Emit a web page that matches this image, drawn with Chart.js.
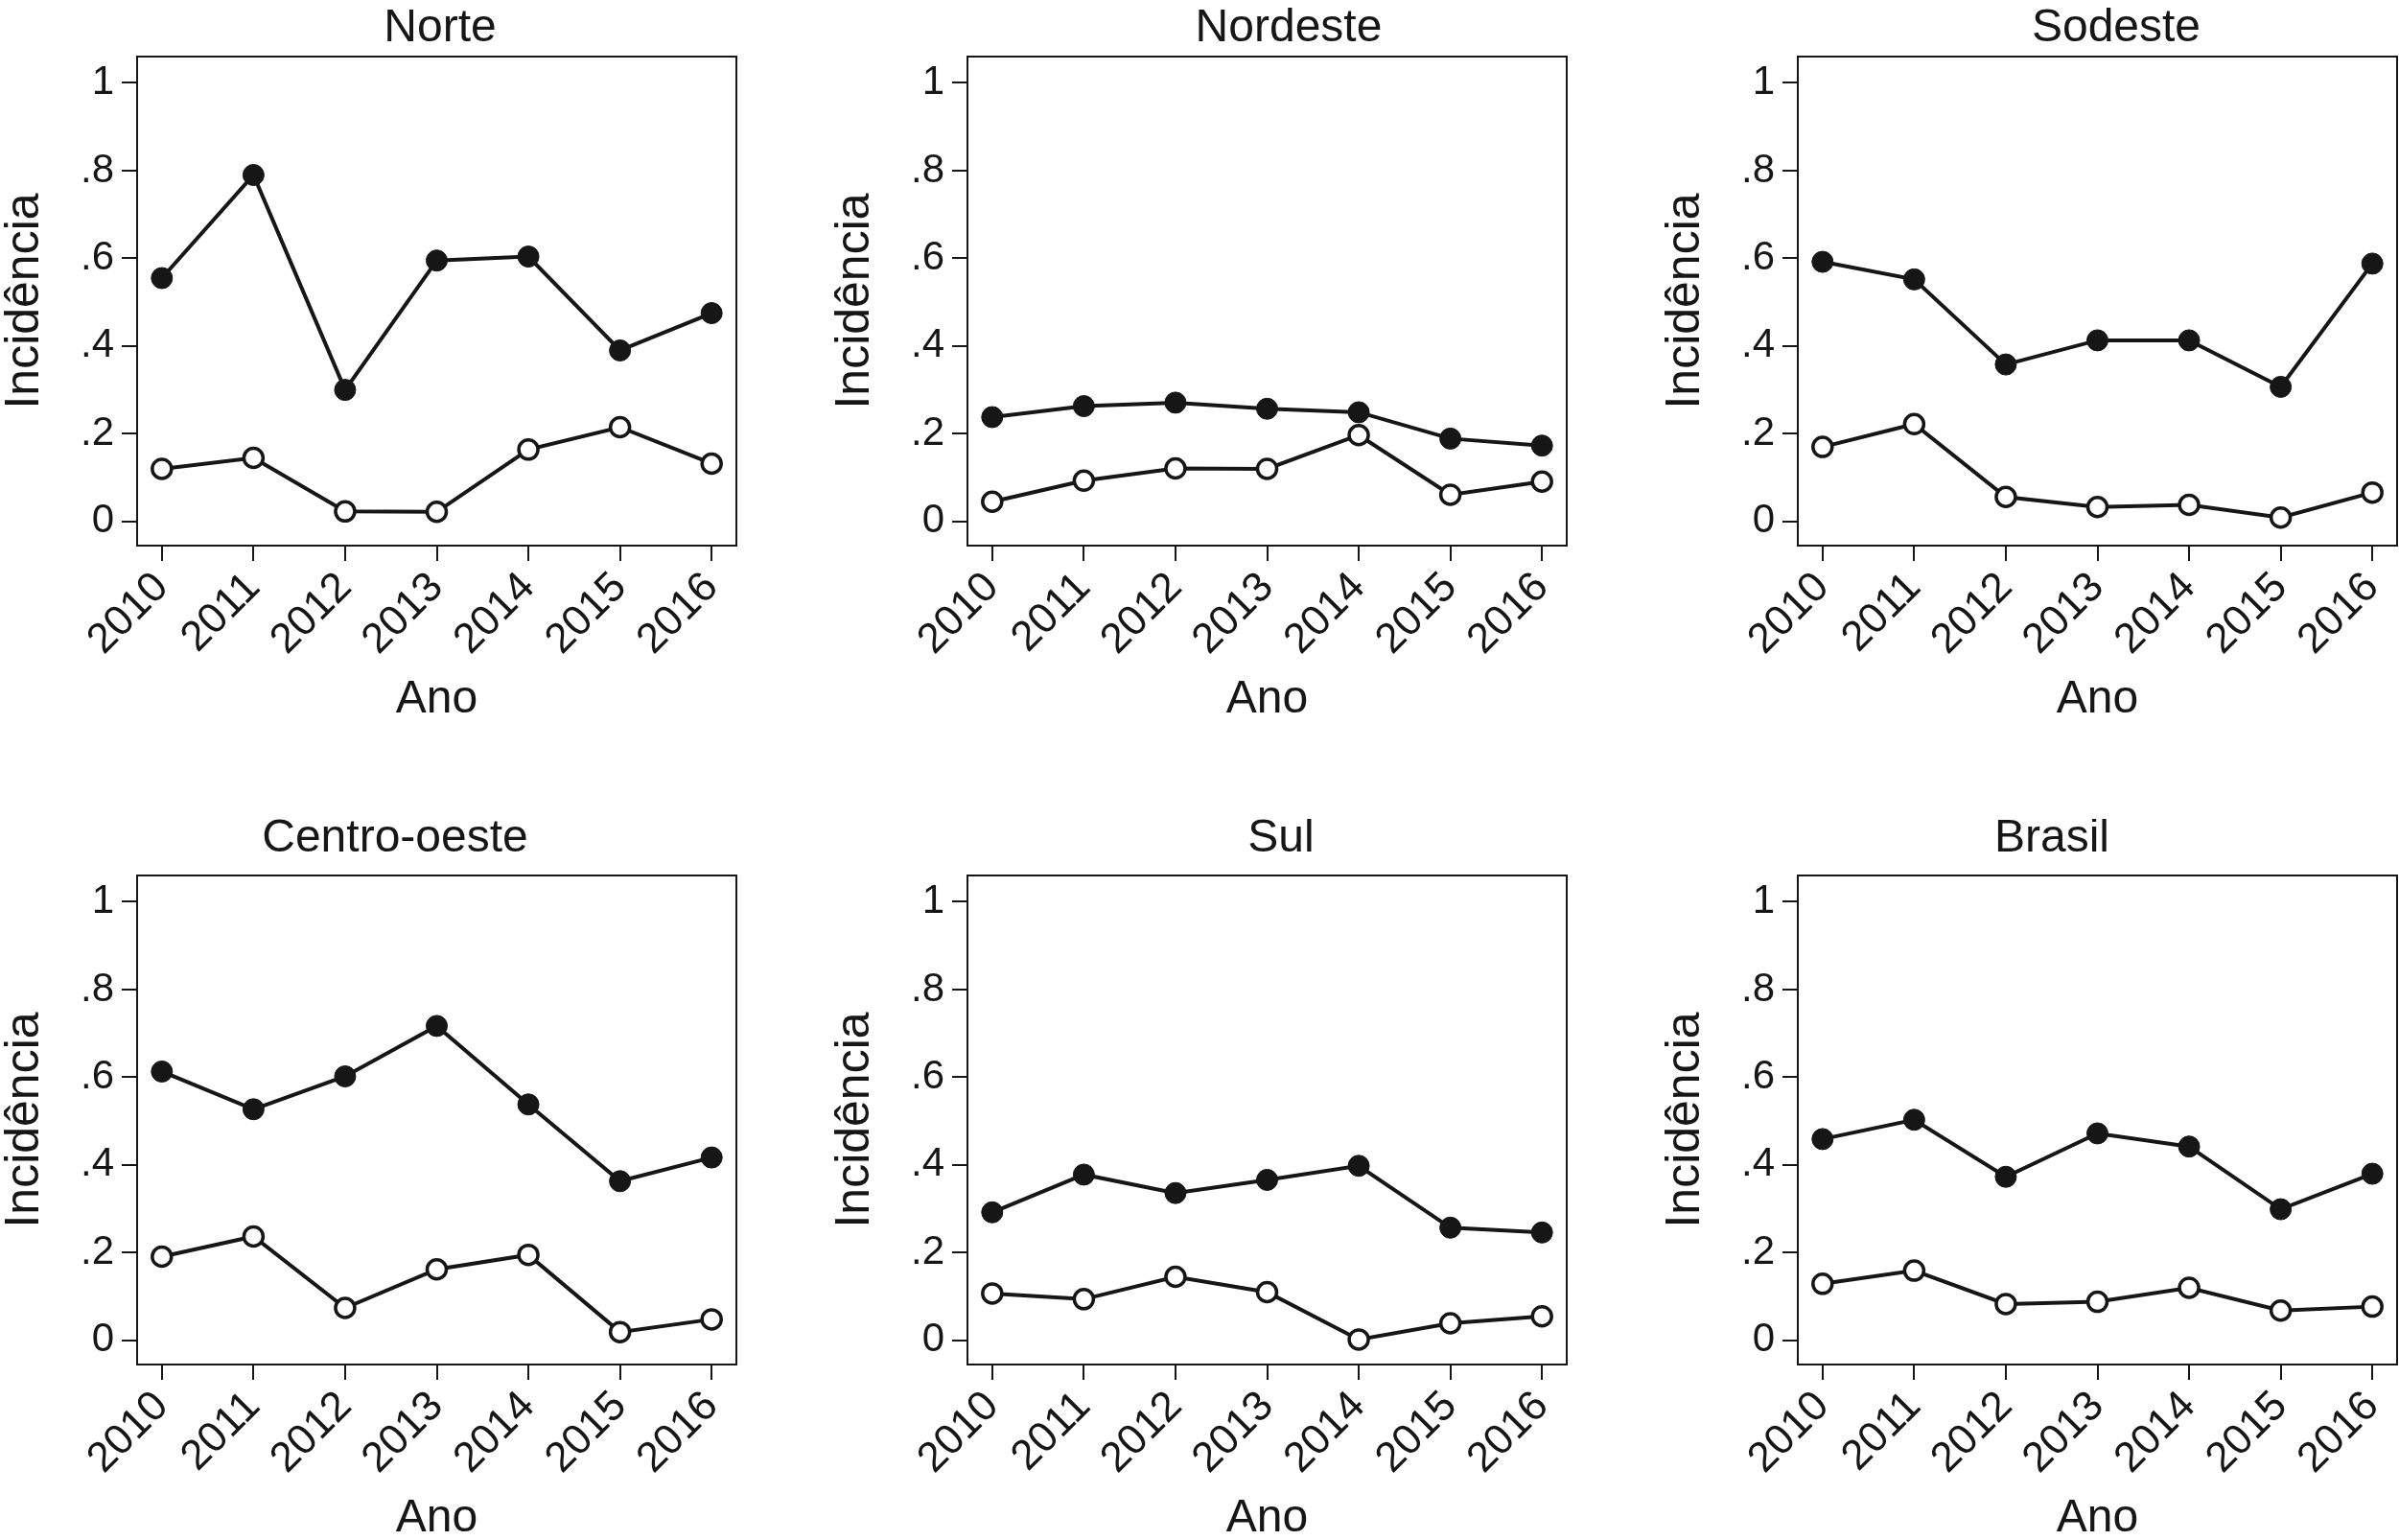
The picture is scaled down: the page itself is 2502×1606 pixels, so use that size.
<!DOCTYPE html>
<html>
<head>
<meta charset="utf-8">
<script src="https://cdn.jsdelivr.net/npm/chart.js@4.4.1/dist/chart.umd.min.js"></script>
<style>
html, body { margin: 0; padding: 0; background: #fff; width: 2502px; height: 1606px; overflow: hidden; }
canvas { position: absolute; }
</style>
</head>
<body>
<canvas id="c0" width="784" height="754" style="left:0px;top:0px"></canvas>
<canvas id="c1" width="784" height="754" style="left:866px;top:0px"></canvas>
<canvas id="c2" width="784" height="754" style="left:1732px;top:0px"></canvas>
<canvas id="c3" width="784" height="754" style="left:0px;top:854px"></canvas>
<canvas id="c4" width="784" height="754" style="left:866px;top:854px"></canvas>
<canvas id="c5" width="784" height="754" style="left:1732px;top:854px"></canvas>
<script>
// dados
const years = [2010, 2011, 2012, 2013, 2014, 2015, 2016];
const yTicks = [0, 0.2, 0.4, 0.6, 0.8, 1];
const yTickLabels = ['0', '.2', '.4', '.6', '.8', '1'];
const regions = ['Norte', 'Nordeste', 'Sodeste', 'Centro-oeste', 'Sul', 'Brasil'];

const norteCheio = [0.555, 0.79, 0.30, 0.595, 0.604, 0.39, 0.475];
const norteVazio = [0.12, 0.145, 0.023, 0.022, 0.164, 0.215, 0.132];
const nordesteCheio = [0.238, 0.263, 0.271, 0.257, 0.249, 0.189, 0.173];
const nordesteVazio = [0.045, 0.093, 0.121, 0.12, 0.197, 0.061, 0.091];
const sodesteCheio = [0.592, 0.552, 0.358, 0.413, 0.413, 0.307, 0.588];
const sodesteVazio = [0.17, 0.222, 0.056, 0.033, 0.038, 0.009, 0.066];
const centroCheio = [0.613, 0.527, 0.602, 0.717, 0.538, 0.363, 0.417];
const centroVazio = [0.191, 0.237, 0.074, 0.162, 0.195, 0.019, 0.048];
const sulCheio = [0.292, 0.378, 0.336, 0.366, 0.398, 0.257, 0.246];
const sulVazio = [0.107, 0.094, 0.145, 0.11, 0.002, 0.039, 0.055];
const brasilCheio = [0.459, 0.503, 0.373, 0.472, 0.442, 0.299, 0.38];
const brasilVazio = [0.129, 0.159, 0.083, 0.088, 0.12, 0.068, 0.077];

const cheios = [norteCheio, nordesteCheio, sodesteCheio, centroCheio, sulCheio, brasilCheio];
const vazios = [norteVazio, nordesteVazio, sodesteVazio, centroVazio, sulVazio, brasilVazio];

// onde fica o titulo de cada painel (dentro do canvas)
const titleX = [459, 478, 475, 412, 470, 408];
const titleBase = [43, 43, 43, 34, 34, 34];

const ink = '#161616';
Chart.defaults.font.family = "'Liberation Sans', Arial, Helvetica, sans-serif";
Chart.defaults.color = ink;

// moldura em volta da area do grafico + titulo do painel
const boxPlugin = {
    id: 'box',
    afterDraw(chart, args, opts) {
        const a = chart.chartArea;
        const ctx = chart.ctx;
        ctx.save();
        ctx.strokeStyle = ink;
        ctx.lineWidth = 2;
        ctx.strokeRect(a.left, a.top, a.right - a.left, a.bottom - a.top);
        ctx.fillStyle = ink;
        ctx.font = "48px 'Liberation Sans', Arial, sans-serif";
        ctx.textAlign = 'center';
        ctx.textBaseline = 'alphabetic';
        ctx.fillText(opts.text, opts.x, opts.y);
        ctx.restore();
    }
};

function toPoints(arr) {
    return years.map((x, i) => ({ x: x, y: arr[i] }));
}

regions.forEach(function (name, k) {
    const ctx = document.getElementById('c' + k).getContext('2d');
    new Chart(ctx, {
        type: 'line',
        data: {
            datasets: [
                {
                    data: toPoints(cheios[k]),
                    borderColor: ink,
                    borderWidth: 4,
                    pointRadius: 11,
                    pointBackgroundColor: ink,
                    pointBorderColor: ink,
                    pointBorderWidth: 1,
                    tension: 0
                },
                {
                    data: toPoints(vazios[k]),
                    borderColor: ink,
                    borderWidth: 4,
                    pointRadius: 10,
                    pointBackgroundColor: '#fff',
                    pointBorderColor: ink,
                    pointBorderWidth: 3.5,
                    tension: 0
                }
            ]
        },
        options: {
            responsive: false,
            animation: false,
            devicePixelRatio: 1,
            layout: { padding: { left: 0, right: 16, top: 59, bottom: 0 } },
            plugins: {
                legend: { display: false },
                tooltip: { enabled: false },
                title: { display: false },
                box: { text: name, x: titleX[k], y: titleBase[k] }
            },
            scales: {
                x: {
                    type: 'linear',
                    min: 2009.73,
                    max: 2016.27,
                    afterBuildTicks: function (s) { s.ticks = years.map(v => ({ value: v })); },
                    afterFit: function (s) { s.height = 185; },
                    border: { display: false },
                    grid: { drawOnChartArea: false, drawTicks: true, tickLength: 16, tickColor: ink, lineWidth: 2 },
                    ticks: {
                        autoSkip: false,
                        minRotation: 45,
                        maxRotation: 45,
                        padding: 2,
                        color: ink,
                        font: { size: 44 },
                        callback: function (v) { return String(v); }
                    },
                    title: {
                        display: true,
                        text: 'Ano',
                        color: ink,
                        font: { size: 48, lineHeight: 1 },
                        padding: 0
                    }
                },
                y: {
                    type: 'linear',
                    min: -0.055,
                    max: 1.06,
                    afterBuildTicks: function (s) { s.ticks = yTicks.map(v => ({ value: v })); },
                    afterFit: function (s) { s.width = 143; },
                    border: { display: false },
                    grid: { drawOnChartArea: false, drawTicks: true, tickLength: 16, tickColor: ink, lineWidth: 2 },
                    ticks: {
                        padding: 8,
                        color: ink,
                        font: { size: 42 },
                        callback: function (v) {
                            const i = yTicks.findIndex(t => Math.abs(t - v) < 1e-9);
                            return i >= 0 ? yTickLabels[i] : '';
                        }
                    },
                    title: {
                        display: true,
                        text: 'Incidência',
                        color: ink,
                        font: { size: 50, lineHeight: 1 },
                        padding: { top: 1, bottom: 0 }
                    }
                }
            }
        },
        plugins: [boxPlugin]
    });
});
</script>
</body>
</html>
